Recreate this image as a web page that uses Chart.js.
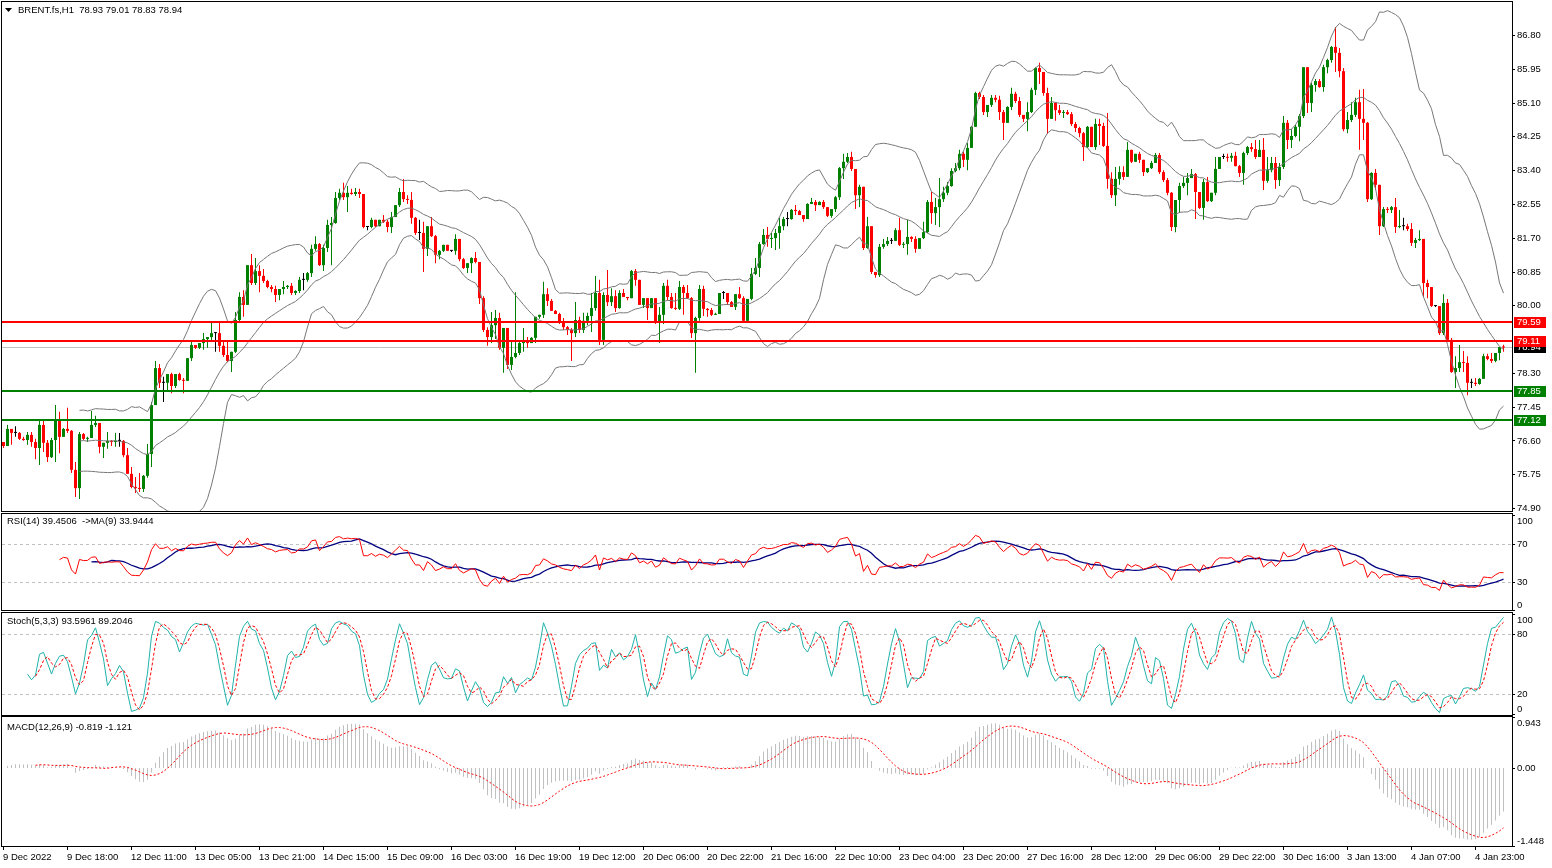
<!DOCTYPE html>
<html>
<head>
<meta charset="utf-8">
<script src="https://cdn.jsdelivr.net/npm/chart.js@4.4.1/dist/chart.umd.min.js"></script>
<style>
html, body { margin: 0; padding: 0; background: #fff; overflow: hidden; }
#wrap { position: relative; width: 1552px; height: 868px; background: #fff; }
canvas { position: absolute; left: 0; top: 0; }
</style>
</head>
<body>
<div id="wrap">
  <canvas id="cMain" width="1552" height="868"></canvas>
  <canvas id="cRsi" width="1552" height="868"></canvas>
  <canvas id="cStoch" width="1552" height="868"></canvas>
  <canvas id="cMacd" width="1552" height="868"></canvas>
</div>
<script>
// BRENT.fs H1 candles (open = previous close)
const firstOpen = 76.56;
const closes = [
76.46,76.89,76.79,76.79,76.64,76.61,76.74,76.56,76.41,76.99,
76.54,76.18,76.61,77.09,76.69,76.89,76.84,75.86,75.40,76.76,
76.64,76.66,76.99,77.04,76.44,76.54,76.59,76.56,76.59,76.59,
76.23,75.76,75.43,75.40,75.38,75.71,76.26,77.49,78.42,78.05,
78.05,78.27,77.97,78.27,78.12,78.10,78.67,79.00,78.93,79.05,
79.15,79.20,79.30,79.30,78.98,78.75,78.60,78.83,79.63,80.21,
80.01,81.01,80.56,80.86,80.74,80.61,80.46,80.41,80.26,80.41,
80.46,80.49,80.31,80.36,80.64,80.64,80.81,81.42,81.54,81.01,
81.44,82.02,82.07,82.70,82.83,82.72,82.83,82.80,82.85,82.80,
81.97,81.97,82.15,81.99,82.15,82.10,81.97,82.22,82.52,82.85,
82.67,82.65,82.20,81.82,81.82,81.42,81.99,81.74,81.27,81.37,
81.52,81.37,81.37,81.67,81.16,80.94,81.06,81.19,81.09,80.18,
79.38,79.20,79.50,79.68,78.93,79.43,78.50,78.70,78.80,79.05,
79.08,79.05,79.18,79.71,79.76,80.28,80.11,79.86,79.78,79.58,
79.45,79.38,79.30,79.63,79.38,79.61,79.73,79.93,80.31,79.13,
80.26,80.08,80.23,79.93,80.31,80.21,80.18,80.86,80.64,80.01,
80.18,79.93,80.18,79.58,79.76,80.49,80.21,79.93,79.91,80.46,
80.31,80.18,79.30,79.68,80.41,79.91,79.88,79.76,79.78,80.31,
80.31,80.08,79.96,80.28,80.18,79.61,80.16,80.79,80.94,81.54,
81.77,81.67,81.69,81.82,81.99,82.17,82.17,82.40,82.37,82.27,
82.17,82.55,82.60,82.52,82.60,82.47,82.25,82.42,82.72,83.45,
83.61,83.73,83.43,82.77,82.98,81.44,81.99,80.84,80.76,81.47,
81.54,81.62,81.62,81.89,81.52,81.54,81.72,81.67,81.42,81.69,
81.84,82.60,82.32,82.47,82.67,82.83,83.00,83.38,83.45,83.81,
83.66,83.96,84.49,85.34,85.24,84.86,85.04,85.22,85.17,84.86,
84.59,84.99,85.32,85.14,84.79,84.69,84.86,85.42,85.97,85.87,
85.34,84.69,85.09,84.91,84.84,84.86,84.81,84.56,84.46,84.33,
83.98,84.49,83.98,84.56,84.51,84.01,83.18,82.77,83.18,83.35,
83.23,83.91,83.61,83.81,83.66,83.35,83.45,83.58,83.78,83.35,
83.15,82.83,81.97,82.65,83.00,83.08,83.20,83.30,82.85,82.45,
83.10,82.62,82.83,83.43,83.73,83.73,83.71,83.76,83.50,83.33,
83.83,83.98,83.93,83.73,83.91,83.13,83.40,83.58,83.15,83.48,
84.59,84.16,84.26,84.49,84.76,85.99,85.09,85.54,85.64,85.49,
85.99,86.17,86.50,86.35,85.89,84.43,84.66,84.79,85.11,84.69,
84.59,82.67,83.33,83.03,81.99,82.42,82.40,82.47,81.97,81.99,
81.99,81.92,81.57,81.64,81.67,80.56,80.46,79.98,79.98,79.30,
80.06,79.13,78.32,78.42,78.57,78.55,78.05,78.05,78.02,78.15,
78.72,78.65,78.60,78.80,78.95,78.94
];
const highs = [
76.56,76.99,76.89,76.96,76.81,76.69,76.81,76.81,76.64,77.14,
77.09,76.61,76.66,77.49,77.32,76.91,77.42,76.86,76.06,76.81,
76.79,76.69,77.34,77.22,77.04,76.54,76.81,76.61,76.79,76.79,
76.61,76.41,75.93,75.68,75.78,75.73,76.51,77.57,78.60,78.52,
78.20,78.27,78.30,78.27,78.30,78.17,78.67,79.13,79.00,79.05,
79.30,79.20,79.58,79.33,79.58,79.10,79.13,78.83,79.83,80.33,
80.38,81.01,81.29,81.19,81.01,80.91,80.64,80.51,80.49,80.41,
80.61,80.51,80.56,80.38,80.71,80.81,80.84,81.52,81.74,81.57,
81.52,82.15,82.22,82.85,82.93,83.08,83.00,82.93,82.95,82.93,
82.80,81.99,82.20,82.15,82.15,82.27,82.15,82.35,82.52,82.95,
83.18,82.77,82.85,82.22,82.15,82.10,81.99,82.22,81.77,81.39,
81.52,81.49,81.39,81.79,81.67,81.19,81.06,81.21,81.34,80.96,
80.23,79.45,79.83,79.88,79.81,79.43,79.43,79.13,80.33,79.08,
79.43,79.20,79.20,79.71,79.76,80.59,80.43,80.16,79.88,79.81,
79.68,79.48,79.43,80.08,79.71,79.81,79.81,80.31,80.74,80.64,
80.33,80.89,80.43,80.38,80.38,80.41,80.21,80.89,80.91,80.64,
80.18,79.98,80.18,80.18,79.96,80.56,80.64,80.31,80.31,80.61,
80.51,80.51,80.21,79.71,80.51,80.49,79.93,79.93,79.81,80.31,
80.36,80.31,80.11,80.28,80.46,80.23,80.16,80.94,81.19,81.59,
81.92,81.97,81.82,81.92,82.20,82.22,82.35,82.42,82.52,82.40,
82.27,82.57,82.70,82.65,82.62,82.65,82.47,82.42,82.75,83.48,
83.81,83.83,83.86,83.43,83.03,82.98,82.22,81.99,80.84,81.54,
81.67,81.72,81.69,81.94,82.20,81.59,82.15,81.74,81.74,81.69,
82.10,82.65,82.85,82.70,83.20,82.98,83.10,83.45,83.58,83.91,
83.86,84.08,84.51,85.37,85.37,85.29,85.04,85.29,85.29,85.27,
84.91,85.01,85.47,85.37,85.24,84.79,85.11,85.47,85.99,86.10,
85.87,85.47,85.24,85.11,85.04,84.91,84.91,84.86,84.61,84.49,
84.36,84.51,84.49,84.69,84.69,84.59,84.84,83.35,83.48,83.50,
83.50,84.11,83.91,83.81,83.86,83.58,83.45,83.63,83.83,83.83,
83.40,83.20,82.85,82.65,83.08,83.23,83.33,83.43,83.33,82.85,
83.18,83.23,82.83,83.73,83.73,83.81,83.81,83.83,83.86,83.53,
83.86,84.01,84.08,84.16,84.16,84.21,83.73,83.73,83.73,83.58,
84.76,84.66,84.43,84.54,84.81,85.99,85.89,85.59,85.69,85.69,
86.05,86.20,86.52,87.00,86.47,85.97,84.86,85.11,85.22,85.42,
85.44,84.61,83.35,83.43,83.03,82.47,82.47,82.50,82.70,82.40,
82.20,82.05,82.07,81.69,81.89,81.67,80.64,80.46,80.01,79.98,
80.28,80.16,79.18,78.72,79.00,78.85,78.72,78.15,78.17,78.17,
78.78,78.78,78.80,78.80,78.95,79.01
];
const lows = [
76.41,76.56,76.49,76.69,76.61,76.59,76.49,76.44,76.13,75.98,
76.31,76.06,76.16,76.06,76.28,76.69,76.79,75.78,75.18,75.13,
76.61,76.56,76.79,76.94,76.28,76.16,76.39,76.46,76.44,76.44,
76.18,75.76,75.40,75.28,75.30,75.30,75.66,75.93,77.49,77.92,
77.57,77.82,77.79,77.92,78.10,77.79,78.10,78.60,78.90,78.90,
78.88,78.93,79.13,78.83,78.83,78.70,78.57,78.32,78.80,79.58,
79.71,80.01,80.51,80.51,80.33,80.56,80.43,80.33,80.08,80.13,
80.28,80.41,80.26,80.26,80.31,80.38,80.59,80.71,81.37,80.99,
80.86,81.34,81.01,82.05,82.65,82.65,82.35,82.78,82.75,82.70,
81.94,81.89,81.94,81.97,81.99,82.07,81.84,81.82,82.22,82.47,
82.60,82.55,82.05,81.77,81.64,80.84,81.24,81.72,81.06,81.16,
81.34,81.37,81.34,81.27,81.11,80.91,80.81,80.81,81.06,80.03,
79.33,78.98,79.05,79.15,78.88,78.30,78.40,78.37,78.67,78.75,
78.83,78.93,79.05,79.05,79.66,79.68,79.98,79.86,79.78,79.53,
79.38,79.25,78.60,79.20,79.30,79.30,79.50,79.33,79.86,79.00,
79.00,79.98,79.98,79.83,79.91,80.21,80.13,80.21,80.49,80.01,
79.93,79.63,79.93,79.53,79.05,79.53,80.13,79.91,79.88,79.88,
79.76,80.16,79.18,78.30,79.61,79.73,79.71,79.73,79.76,79.88,
80.16,80.01,79.96,79.88,80.16,79.61,79.58,80.13,80.76,80.71,
81.52,81.47,81.44,81.39,81.42,81.89,81.99,82.15,82.27,82.27,
82.10,82.32,82.55,82.37,82.52,82.42,82.22,82.20,82.35,82.65,
83.18,83.58,83.38,82.42,82.47,81.39,81.42,80.79,80.69,80.71,
81.42,81.49,81.54,81.62,81.49,81.44,81.27,81.59,81.32,81.42,
81.67,81.82,82.05,82.02,81.97,82.60,82.77,82.98,83.35,83.40,
83.48,83.40,84.46,84.79,85.19,84.79,84.74,84.99,85.11,84.66,
84.16,84.59,84.91,85.09,84.74,84.61,84.38,84.84,85.29,85.57,
85.27,84.31,84.91,84.64,84.79,84.71,84.79,84.51,84.36,84.23,
83.63,83.96,83.98,83.91,84.03,83.98,82.93,82.70,82.50,83.03,
83.15,83.23,83.58,83.63,83.58,83.25,83.33,83.43,83.58,83.30,
83.10,82.77,81.87,81.84,82.32,82.95,82.77,83.20,82.17,82.42,
82.15,82.60,82.60,82.77,83.43,83.68,83.61,83.61,83.50,83.23,
83.03,83.78,83.86,83.68,83.73,82.90,83.08,83.35,82.93,83.00,
83.43,83.93,83.96,84.23,84.13,84.71,84.84,84.86,85.37,85.47,
85.37,85.84,86.10,85.87,85.74,84.38,84.33,84.61,84.74,83.91,
84.16,82.60,82.65,82.90,81.77,81.97,82.32,82.32,81.82,81.94,
81.89,81.87,81.49,81.44,81.62,80.21,80.18,79.96,79.96,79.25,
79.25,79.08,78.30,77.92,78.32,78.32,77.74,77.92,77.97,78.00,
78.20,78.62,78.55,78.57,78.62,78.83
];

// horizontal levels and current bid
const levelValues = [79.59, 79.11, 77.85, 77.12];
const levelNames = ["79.59", "79.11", "77.85", "77.12"];
const levelKinds = ["res", "res", "sup", "sup"];
const bidPrice = 78.94;

// axis ticks
const priceTicks = [86.80, 85.95, 85.10, 84.25, 83.40, 82.55, 81.70, 80.85, 80.00, 78.30, 77.45, 76.60, 75.75, 74.90];
const rsiTicks = [100, 70, 30, 0];
const rsiLevels = [70, 30];
const stochTicks = [100, 80, 20, 0];
const stochLevels = [80, 20];
const macdTicks = [0.943, 0.00, -1.448];
const macdTickText = ["0.943", "0.00", "-1.448"];

const timeLabels = ["9 Dec 2022", "9 Dec 18:00", "12 Dec 11:00", "13 Dec 05:00", "13 Dec 21:00", "14 Dec 15:00",
  "15 Dec 09:00", "16 Dec 03:00", "16 Dec 19:00", "19 Dec 12:00", "20 Dec 06:00", "20 Dec 22:00",
  "21 Dec 16:00", "22 Dec 10:00", "23 Dec 04:00", "23 Dec 20:00", "27 Dec 16:00", "28 Dec 12:00",
  "29 Dec 06:00", "29 Dec 22:00", "30 Dec 16:00", "3 Jan 13:00", "4 Jan 07:00", "4 Jan 23:00"];
const timeLabelBars = [0, 16, 32, 48, 64, 80, 96, 112, 128, 144, 160, 176, 192, 208, 224, 240, 256, 272, 288, 304, 320, 336, 352, 368];

const headerText = "BRENT.fs,H1  78.93 79.01 78.83 78.94";
const rsiTitle = "RSI(14) 39.4506  ->MA(9) 33.9444";
const stochTitle = "Stoch(5,3,3) 93.5961 89.2046";
const macdTitle = "MACD(12,26,9) -0.819 -1.121";

// ---- styles
const FONT = '9.5px "Liberation Sans", Arial, sans-serif';
const UP = '#008000', DOWN = '#ff0000', DOJI = '#000000';
const W = 1552, H = 868;
const xMin = -0.625, xMax = 377.125;

const n = closes.length;
const opens = closes.map((c, i) => i === 0 ? firstOpen : closes[i - 1]);
const hiEff = highs.map((h, i) => Math.max(h, opens[i], closes[i]));
const loEff = lows.map((l, i) => Math.min(l, opens[i], closes[i]));
const candleColor = closes.map((c, i) => c > opens[i] ? UP : (c < opens[i] ? DOWN : DOJI));

// ---- indicators computed from the candles
function smaOf(arr, p) {
  const out = new Array(arr.length).fill(null);
  for (let i = 0; i < arr.length; i++) {
    let s = 0, ok = true;
    for (let j = i - p + 1; j <= i; j++) {
      if (j < 0 || arr[j] === null) { ok = false; break; }
      s += arr[j];
    }
    if (ok) out[i] = s / p;
  }
  return out;
}

// Bollinger 20, 2
const bbMid = smaOf(closes, 20);
const bbUp = [], bbLo = [];
for (let i = 0; i < n; i++) {
  if (bbMid[i] === null) { bbUp.push(null); bbLo.push(null); continue; }
  let v = 0;
  for (let j = i - 19; j <= i; j++) v += (closes[j] - bbMid[i]) ** 2;
  const sd = Math.sqrt(v / 20);
  bbUp.push(bbMid[i] + 2 * sd);
  bbLo.push(bbMid[i] - 2 * sd);
}

// RSI 14 + MA 9
const rsi = new Array(n).fill(null);
let ag = 0, al = 0;
for (let i = 1; i < n; i++) {
  const d = closes[i] - closes[i - 1];
  const g = Math.max(d, 0), l = Math.max(-d, 0);
  if (i <= 14) {
    ag += g / 14; al += l / 14;
    if (i === 14) rsi[i] = al === 0 ? 100 : 100 - 100 / (1 + ag / al);
  } else {
    ag = (ag * 13 + g) / 14; al = (al * 13 + l) / 14;
    rsi[i] = al === 0 ? 100 : 100 - 100 / (1 + ag / al);
  }
}
const rsiMa = smaOf(rsi, 9);

// Stochastic 5,3,3
const stK = new Array(n).fill(null);
const num = new Array(n).fill(null), den = new Array(n).fill(null);
for (let i = 4; i < n; i++) {
  let ll = Infinity, hh = -Infinity;
  for (let j = i - 4; j <= i; j++) { ll = Math.min(ll, loEff[j]); hh = Math.max(hh, hiEff[j]); }
  num[i] = closes[i] - ll; den[i] = hh - ll;
}
for (let i = 6; i < n; i++) {
  const a = num[i] + num[i - 1] + num[i - 2], b = den[i] + den[i - 1] + den[i - 2];
  stK[i] = b === 0 ? 100 : 100 * a / b;
}
const stD = smaOf(stK, 3);

// MACD 12,26,9 (MT4 style: main as histogram, SMA signal)
const macd = [];
let e12 = closes[0], e26 = closes[0];
for (let i = 0; i < n; i++) {
  e12 += (closes[i] - e12) * 2 / 13;
  e26 += (closes[i] - e26) * 2 / 27;
  macd.push(e12 - e26);
}
const macdSig = smaOf(macd, 9);

const pts = arr => arr.map((v, i) => ({ x: i, y: v }));
const lineDs = (arr, color, extra) => Object.assign({
  type: 'line', data: pts(arr), borderColor: color, borderWidth: 1, pointRadius: 0,
  tension: 0, fill: false, spanGaps: false
}, extra || {});

// ---- drawing helpers
function drawBorder(ctx, t, b) {
  ctx.save();
  ctx.strokeStyle = '#000';
  ctx.lineWidth = 1;
  ctx.strokeRect(1.5, t, 1511, b - t);
  ctx.restore();
}
function drawAxis(chart, values, texts, edgeClamp) {
  const ctx = chart.ctx, ys = chart.scales.y, a = chart.chartArea;
  ctx.save();
  ctx.font = FONT; ctx.fillStyle = '#000'; ctx.textAlign = 'left'; ctx.textBaseline = 'middle';
  values.forEach((v, k) => {
    const py = ys.getPixelForValue(v);
    const ty = edgeClamp ? Math.min(Math.max(py, a.top + 6), a.bottom - 5) : py;
    ctx.fillRect(1513, Math.round(py), 2, 1);
    ctx.fillText(texts[k], 1517, ty + 0.5);
  });
  ctx.restore();
}
function drawDashed(chart, values) {
  const ctx = chart.ctx, ys = chart.scales.y;
  ctx.save();
  ctx.strokeStyle = '#c0c0c0'; ctx.lineWidth = 1; ctx.setLineDash([3, 3]);
  values.forEach(v => {
    const py = Math.round(ys.getPixelForValue(v)) + 0.5;
    ctx.beginPath(); ctx.moveTo(2, py); ctx.lineTo(1512, py); ctx.stroke();
  });
  ctx.restore();
}
function drawTitle(ctx, text, x, y) {
  ctx.save();
  ctx.font = FONT; ctx.fillStyle = '#000'; ctx.textAlign = 'left'; ctx.textBaseline = 'middle';
  ctx.fillText(text, x, y);
  ctx.restore();
}

function makeChart(id, top, bottom, yMin, yMax, datasets, plugin) {
  return new Chart(document.getElementById(id), {
    type: 'bar',
    data: { datasets: datasets },
    options: {
      responsive: false, animation: false, devicePixelRatio: 1, events: [],
      layout: { padding: { left: 1, right: W - 1512, top: top, bottom: H - bottom } },
      plugins: { legend: { display: false }, tooltip: { enabled: false } },
      scales: {
        x: { type: 'linear', min: xMin, max: xMax, offset: false, display: false },
        y: { type: 'linear', min: yMin, max: yMax, display: false }
      }
    },
    plugins: [plugin]
  });
}

// ---- main price chart
const mainPlugin = {
  id: 'mainPanel',
  beforeDatasetsDraw(chart) {
    const ctx = chart.ctx, ys = chart.scales.y;
    const py = Math.round(ys.getPixelForValue(bidPrice)) + 0.5;
    ctx.save(); ctx.strokeStyle = '#c0c0c0'; ctx.lineWidth = 1;
    ctx.beginPath(); ctx.moveTo(2, py); ctx.lineTo(1512, py); ctx.stroke(); ctx.restore();
  },
  afterDatasetsDraw(chart) {
    const ctx = chart.ctx, ys = chart.scales.y;
    ctx.save(); ctx.lineWidth = 2;
    levelValues.forEach((v, k) => {
      const py = Math.round(ys.getPixelForValue(v));
      ctx.strokeStyle = levelKinds[k] === 'res' ? '#ff0000' : '#008000';
      ctx.beginPath(); ctx.moveTo(2, py); ctx.lineTo(1512, py); ctx.stroke();
    });
    ctx.restore();
  },
  afterDraw(chart) {
    const ctx = chart.ctx, ys = chart.scales.y;
    drawBorder(ctx, 1.5, 511.5);
    drawAxis(chart, priceTicks, priceTicks.map(v => v.toFixed(2)), false);
    // price tags on the axis
    const tag = (v, text, bg) => {
      const py = ys.getPixelForValue(v);
      ctx.fillStyle = bg;
      ctx.fillRect(1514, Math.round(py) - 5, 32, 11);
      ctx.fillStyle = '#fff'; ctx.font = FONT; ctx.textAlign = 'left'; ctx.textBaseline = 'middle';
      ctx.fillText(text, 1517, Math.round(py) + 0.5);
    };
    ctx.save();
    tag(bidPrice, bidPrice.toFixed(2), '#000');
    levelValues.forEach((v, k) => tag(v, levelNames[k], levelKinds[k] === 'res' ? '#ff0000' : '#008000'));
    ctx.restore();
    // header
    ctx.save();
    ctx.fillStyle = '#000';
    ctx.beginPath(); ctx.moveTo(5, 8); ctx.lineTo(12, 8); ctx.lineTo(8.5, 12); ctx.closePath(); ctx.fill();
    ctx.restore();
    drawTitle(ctx, headerText, 18, 10.5);
  }
};

makeChart('cMain', 2, 511, 74.825, 87.630, [
  lineDs(bbUp, '#777777', { order: 0 }),
  lineDs(bbMid, '#777777', { order: 0 }),
  lineDs(bbLo, '#777777', { order: 0 }),
  {
    type: 'bar', order: 2, grouped: false, barThickness: 1, inflateAmount: 0, borderWidth: 0,
    data: closes.map((c, i) => ({ x: i, y: [loEff[i], hiEff[i]] })),
    backgroundColor: candleColor
  },
  {
    type: 'bar', order: 1, grouped: false, barThickness: 3, inflateAmount: 0, borderWidth: 0, minBarLength: 1,
    data: closes.map((c, i) => ({ x: i, y: [opens[i], c] })),
    backgroundColor: candleColor
  }
], mainPlugin);

// ---- RSI
makeChart('cRsi', 515, 610, 0, 100, [
  lineDs(rsiMa, '#000080', { borderWidth: 1.3, order: 1 }),
  lineDs(rsi, '#ff0000', { order: 0 })
], {
  id: 'rsiPanel',
  beforeDatasetsDraw(chart) { drawDashed(chart, rsiLevels); },
  afterDraw(chart) {
    drawBorder(chart.ctx, 513.5, 610.5);
    drawAxis(chart, rsiTicks, rsiTicks.map(String), true);
    drawTitle(chart.ctx, rsiTitle, 7, 521.5);
  }
});

// ---- Stochastic
makeChart('cStoch', 614, 714, 0, 100, [
  lineDs(stK, '#20b2aa', { order: 1 }),
  lineDs(stD, '#ff0000', { borderDash: [3, 2], order: 0 })
], {
  id: 'stochPanel',
  beforeDatasetsDraw(chart) { drawDashed(chart, stochLevels); },
  afterDraw(chart) {
    drawBorder(chart.ctx, 612.5, 715.5);
    drawAxis(chart, stochTicks, stochTicks.map(String), true);
    drawTitle(chart.ctx, stochTitle, 7, 621.5);
  }
});

// ---- MACD
makeChart('cMacd', 717, 846, -1.448, 0.943, [
  {
    type: 'bar', order: 1, grouped: false, barThickness: 1, inflateAmount: 0, borderWidth: 0,
    data: pts(macd), backgroundColor: '#c0c0c0'
  },
  lineDs(macdSig, '#ff0000', { borderDash: [2, 2], order: 0 })
], {
  id: 'macdPanel',
  afterDraw(chart) {
    const ctx = chart.ctx, xs = chart.scales.x;
    drawBorder(ctx, 716.5, 846.5);
    drawAxis(chart, macdTicks, macdTickText, true);
    drawTitle(ctx, macdTitle, 7, 727.5);
    ctx.save();
    ctx.font = FONT; ctx.fillStyle = '#000'; ctx.textAlign = 'left'; ctx.textBaseline = 'middle';
    timeLabelBars.forEach((b, k) => {
      const px = xs.getPixelForValue(b);
      ctx.fillRect(Math.floor(px), 847, 1, 3);
      ctx.fillText(timeLabels[k], px - 0.5, 857);
    });
    ctx.restore();
  }
});
</script>
</body>
</html>
